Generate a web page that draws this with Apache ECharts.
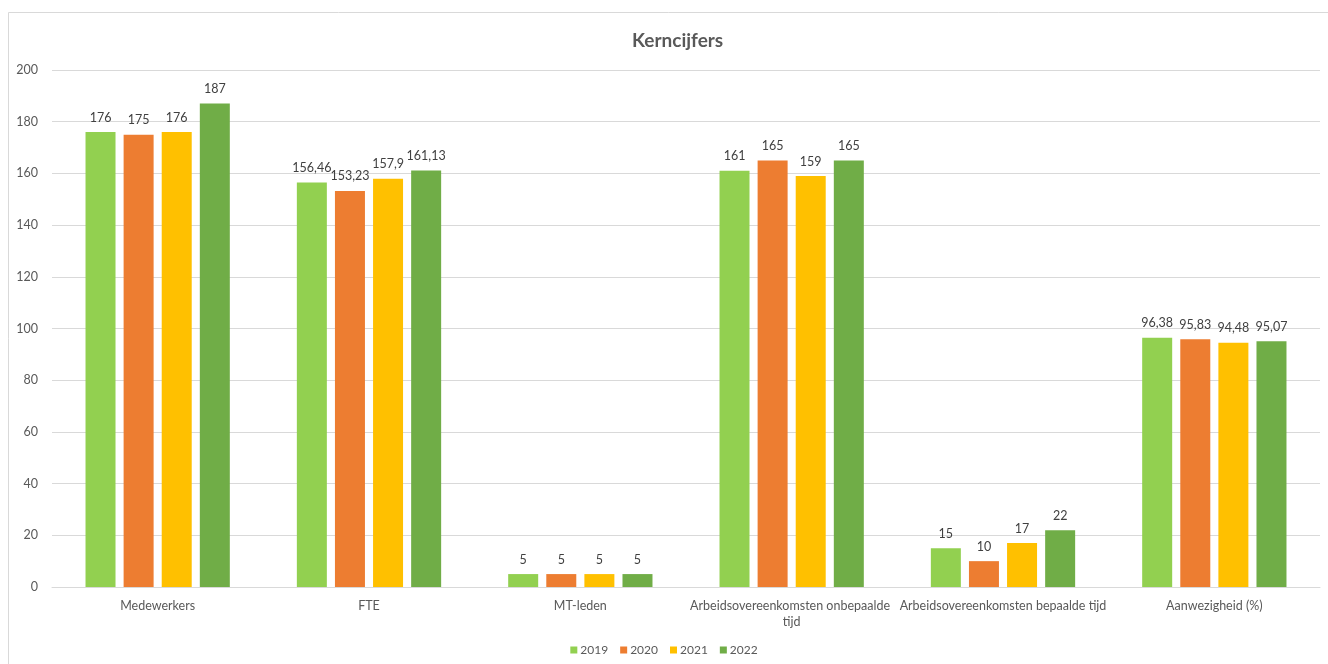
<!DOCTYPE html>
<html>
<head>
<meta charset="utf-8">
<script src="https://cdn.jsdelivr.net/npm/echarts@6/dist/echarts.min.js"></script>
<style>
html,body{margin:0;padding:0;background:#fff;}
#chart{width:1328px;height:664px;}
</style>
</head>
<body>
<div id="chart"></div>
<script>
const categories = ['Medewerkers', 'FTE', 'MT-leden', 'Arbeidsovereenkomsten onbepaalde tijd', 'Arbeidsovereenkomsten bepaalde tijd', 'Aanwezigheid (%)'];
const years = ['2019', '2020', '2021', '2022'];
const values2019 = [176, 156.46, 5, 161, 15, 96.38];
const values2020 = [175, 153.23, 5, 165, 10, 95.83];
const values2021 = [176, 157.9, 5, 159, 17, 94.48];
const values2022 = [187, 161.13, 5, 165, 22, 95.07];
const colors = ['#92D050', '#ED7D31', '#FFC000', '#70AD47'];
const yTicks = { min: 0, max: 200, interval: 20 };

const FONT = 'Lato, "Liberation Sans", sans-serif';
const allValues = [values2019, values2020, values2021, values2022];

const chart = echarts.init(document.getElementById('chart'), null, { renderer: 'canvas' });
chart.setOption({
  animation: false,
  backgroundColor: '#fff',
  color: colors,
  title: {
    text: 'Kerncijfers',
    left: 627,
    top: 26,
    textStyle: { fontFamily: FONT, fontSize: 19, fontWeight: 'bold', color: '#595959' }
  },
  graphic: [{
    type: 'rect',
    shape: { x: 8.5, y: 12.5, width: 1400, height: 700 },
    style: { fill: 'none', stroke: '#d9d9d9', lineWidth: 1 },
    silent: true
  }],
  legend: {
    bottom: 3,
    left: 'center',
    itemWidth: 7,
    itemHeight: 7,
    itemGap: 12,
    icon: 'rect',
    textStyle: { fontFamily: FONT, fontSize: 12, color: '#595959', padding: [0, 0, 0, -2] },
    data: years
  },
  grid: { left: 52, right: 8, top: 70, bottom: 77, containLabel: false },
  xAxis: {
    type: 'category',
    data: categories,
    axisLine: { lineStyle: { color: '#d9d9d9' } },
    axisTick: { show: false },
    axisLabel: {
      interval: 0,
      margin: 11,
      fontFamily: FONT,
      fontSize: 12.5,
      color: '#595959',
      width: 212,
      overflow: 'break',
      lineHeight: 16
    }
  },
  yAxis: {
    type: 'value',
    min: yTicks.min,
    max: yTicks.max,
    interval: yTicks.interval,
    axisLine: { show: false },
    axisTick: { show: false },
    splitLine: { lineStyle: { color: '#d9d9d9' } },
    axisLabel: { fontFamily: FONT, fontSize: 12.5, color: '#595959', margin: 14 }
  },
  series: years.map((y, i) => ({
    name: y,
    type: 'bar',
    data: allValues[i],
    barWidth: 30,
    barGap: '27%',
    itemStyle: { color: colors[i] },
    label: {
      show: true,
      position: 'top',
      distance: 8,
      fontFamily: FONT,
      fontSize: 12.5,
      color: '#404040',
      formatter: p => String(p.value).replace('.', ',')
    }
  }))
});
</script>
</body>
</html>
